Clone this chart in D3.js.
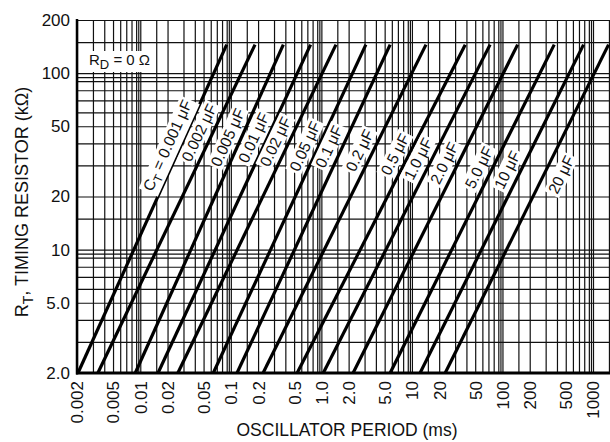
<!DOCTYPE html>
<html>
<head>
<meta charset="utf-8">
<script src="https://cdn.jsdelivr.net/npm/d3@7"></script>
<style>
  body { margin: 0; background: #fff; }
  text { font-family: "Liberation Sans Narrow", "Arial Narrow", "Liberation Sans", Arial, sans-serif; fill: #111; }
</style>
</head>
<body>
<div id="chart"></div>
<script>
// timing capacitor values (uF) and the period read at both ends of each line
var capLabels = ["0.001", "0.002", "0.005", "0.01", "0.02", "0.05", "0.1", "0.2", "0.5", "1.0", "2.0", "5.0", "10", "20"];
var periodAtLowR = [0.00205, 0.0034, 0.0088, 0.0157, 0.026, 0.064, 0.117, 0.227, 0.54, 1.05, 2.24, 5.75, 12.3, 23.3];
var periodAtHighR = [0.090, 0.185, 0.38, 0.76, 1.45, 3.1, 5.75, 14.3, 38.8, 73, 147, 373, 786, 1485];
var rLow = 2, rHigh = 145;

var xTicks = [0.002, 0.005, 0.01, 0.02, 0.05, 0.1, 0.2, 0.5, 1, 2, 5, 10, 20, 50, 100, 200, 500, 1000];
var xTickText = ["0.002", "0.005", "0.01", "0.02", "0.05", "0.1", "0.2", "0.5", "1.0", "2.0", "5.0", "10", "20", "50", "100", "200", "500", "1000"];
var yTicks = [2, 5, 10, 20, 50, 100, 200];
var yTickText = ["2.0", "5.0", "10", "20", "50", "100", "200"];
var gridSteps = [1, 1.5, 2, 3, 4, 5, 6, 7, 8, 9, 9.5];

var W = 610, H = 442;
var mLeft = 77, mRight = 593, mTop = 20, mBottom = 373;

var svg = d3.select("#chart").append("svg")
  .attr("width", W)
  .attr("height", H);

var x = d3.scaleLog().domain([0.002, 1000]).range([mLeft, mRight]);
var y = d3.scaleLog().domain([2, 200]).range([mBottom, mTop]);

// grid values
var gx = [], gy = [];
for (var k = -3; k <= 3; k++) {
  gridSteps.forEach(function(m) {
    var v = m * Math.pow(10, k);
    if (v > 0.002 * 0.999 && v < 1600) gx.push(v);
    if (v > 2 * 0.999 && v < 200 * 1.001) gy.push(v);
  });
}

var gridX = svg.append("g")
  .attr("transform", "translate(0," + mBottom + ")")
  .call(d3.axisBottom(x).tickValues(gx).tickSize(-(mBottom - mTop)).tickFormat(""));
gridX.select(".domain").remove();
gridX.selectAll("line").attr("stroke", "#111").attr("stroke-width", 1.2);

var gridY = svg.append("g")
  .attr("transform", "translate(" + mLeft + ",0)")
  .call(d3.axisLeft(y).tickValues(gy).tickSize(-(W - mLeft)).tickFormat(""));
gridY.select(".domain").remove();
gridY.selectAll("line").attr("stroke", "#111").attr("stroke-width", 1.2);

// frame
svg.append("line").attr("x1", mLeft).attr("x2", mLeft).attr("y1", mTop - 1).attr("y2", mBottom + 1.5)
  .attr("stroke", "#000").attr("stroke-width", 2.5);
svg.append("line").attr("x1", mLeft - 1).attr("x2", W).attr("y1", mBottom).attr("y2", mBottom)
  .attr("stroke", "#000").attr("stroke-width", 3);

// curves
var line = d3.line().x(function(d) { return x(d[0]); }).y(function(d) { return y(d[1]); });
var curves = capLabels.map(function(c, i) {
  return [[periodAtLowR[i], rLow], [periodAtHighR[i], rHigh]];
});
svg.append("g").selectAll("path")
  .data(curves)
  .enter().append("path")
  .attr("d", line)
  .attr("fill", "none")
  .attr("stroke", "#000")
  .attr("stroke-width", 3.2);

function capText(i) { return capLabels[i] + " \u03bcF"; }

// curve labels, parallel to each line; the last one sits on the right of its line
var labels = svg.append("g");
curves.forEach(function(c, i) {
  var x0 = x(c[0][0]), y0 = y(c[0][1]), x1 = x(c[1][0]), y1 = y(c[1][1]);
  var ang = Math.atan2(y0 - y1, x1 - x0);
  var last = i === curves.length - 1;
  var yEnd = last ? 150 : 106 + 4.3 * i;
  var t = (y0 - yEnd) / (y0 - y1);
  var px = x0 + t * (x1 - x0);
  var d = last ? -21 : 7;
  var ax = px - d * Math.sin(ang), ay = yEnd - d * Math.cos(ang);
  var g = labels.append("g")
    .attr("transform", "translate(" + ax + "," + ay + ") rotate(" + (-ang * 180 / Math.PI) + ")");
  var txt = g.append("text").attr("text-anchor", "end").attr("font-size", 15.5);
  if (i === 0) {
    txt.append("tspan").text("C");
    txt.append("tspan").text("T").attr("font-size", 12).attr("dy", 4);
    txt.append("tspan").text(" = " + capText(i)).attr("dy", -4);
  } else {
    txt.text(capText(i));
  }
  var bb = txt.node().getBBox();
  g.insert("rect", "text")
    .attr("x", bb.x - 2).attr("y", bb.y).attr("width", bb.width + 4).attr("height", bb.height)
    .attr("fill", "#fff");
});

// R_D legend
var leg = svg.append("g").attr("transform", "translate(89,65)");
var legText = leg.append("text").attr("font-size", 15);
legText.append("tspan").text("R");
legText.append("tspan").text("D").attr("font-size", 13).attr("dy", 4);
legText.append("tspan").text(" = 0 \u03a9").attr("dy", -4);
var lb = legText.node().getBBox();
leg.insert("rect", "text").attr("x", lb.x - 2).attr("y", lb.y).attr("width", lb.width + 4).attr("height", lb.height).attr("fill", "#fff");

// tick labels
var yAx = svg.append("g")
  .attr("transform", "translate(" + mLeft + ",0)")
  .call(d3.axisLeft(y).tickValues(yTicks).tickSize(0).tickPadding(7)
    .tickFormat(function(d, i) { return yTickText[i]; }));
yAx.select(".domain").remove();
yAx.selectAll("text").attr("font-size", 17).attr("font-family", null);

var xAx = svg.append("g")
  .attr("transform", "translate(0," + mBottom + ")")
  .call(d3.axisBottom(x).tickValues(xTicks).tickSize(0)
    .tickFormat(function(d, i) { return xTickText[i]; }));
xAx.select(".domain").remove();
xAx.selectAll("text")
  .attr("font-size", 17).attr("font-family", null)
  .attr("transform", "rotate(-90)")
  .attr("text-anchor", "end")
  .attr("x", -8).attr("y", 0).attr("dy", "0.35em");

// axis titles
svg.append("text")
  .attr("x", 347).attr("y", 436)
  .attr("text-anchor", "middle")
  .attr("font-size", 17.5)
  .text("OSCILLATOR PERIOD (ms)");

var yt = svg.append("text")
  .attr("transform", "translate(28,202) rotate(-90)")
  .attr("text-anchor", "middle")
  .attr("font-size", 18);
yt.append("tspan").text("R");
yt.append("tspan").text("T").attr("font-size", 14).attr("dy", 5);
yt.append("tspan").text(", TIMING RESISTOR (k\u03a9)").attr("dy", -5);
</script>
</body>
</html>
